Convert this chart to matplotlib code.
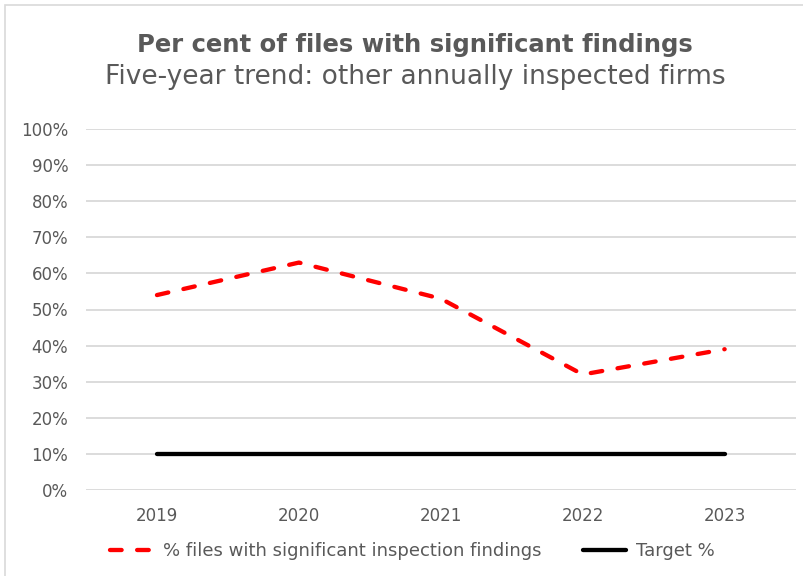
import matplotlib
matplotlib.use("Agg")
import matplotlib.pyplot as plt
from matplotlib.patches import Rectangle
from matplotlib.ticker import PercentFormatter

plt.rcParams['font.family'] = ['DejaVu Sans']

years = ['2019', '2020', '2021', '2022', '2023']
findings = [54, 63, 53, 32, 39]
target = [10, 10, 10, 10, 10]
yticks = [0, 10, 20, 30, 40, 50, 60, 70, 80, 90, 100]

TXT = '#595959'
fig = plt.figure(figsize=(8.04, 5.76), dpi=100)
fig.patches.append(Rectangle((5/804, -0.1), 1.2, (576-5)/576 + 0.1, transform=fig.transFigure,
                             fill=False, edgecolor='#d9d9d9', linewidth=1.2))

ax = fig.add_axes([86/804, (576-490)/576, (795.6-86)/804, 361/576])
x = range(len(years))
ax.plot(x, findings, color='#ff0000', linewidth=3.1, linestyle=(0, (2.7, 3.6)),
        label='% files with significant inspection findings', dash_capstyle='round')
ax.plot(x, target, color='black', linewidth=3.1, label='Target %', solid_capstyle='round')

ax.set_xlim(-0.5, 4.5)
ax.set_ylim(0, 100)
ax.set_yticks(yticks)
ax.yaxis.set_major_formatter(PercentFormatter(decimals=0))
ax.set_xticks(list(x))
ax.set_xticklabels(years)
ax.grid(axis='y', color='#d9d9d9', linewidth=1.3)
ax.set_axisbelow(True)
for s in ax.spines.values():
    s.set_visible(False)
ax.tick_params(length=0, labelsize=12, colors=TXT)
ax.tick_params(axis='y', pad=12.7)
ax.tick_params(axis='x', pad=12)

fig.text(415/804, 1 - 45/576, 'Per cent of files with significant findings', ha='center', va='center',
         fontsize=17.5, fontweight='bold', color=TXT)
fig.text(415/804, 1 - 77/576, 'Five-year trend: other annually inspected firms', ha='center', va='center',
         fontsize=19, color=TXT)

leg = fig.legend(loc='center', bbox_to_anchor=(412.5/804, 1 - 551/576), ncol=2, frameon=False,
                 fontsize=13, handlelength=2.4, handletextpad=0.55, columnspacing=2.3)
for t in leg.get_texts():
    t.set_color(TXT)

fig.savefig('out.png', dpi=100)
